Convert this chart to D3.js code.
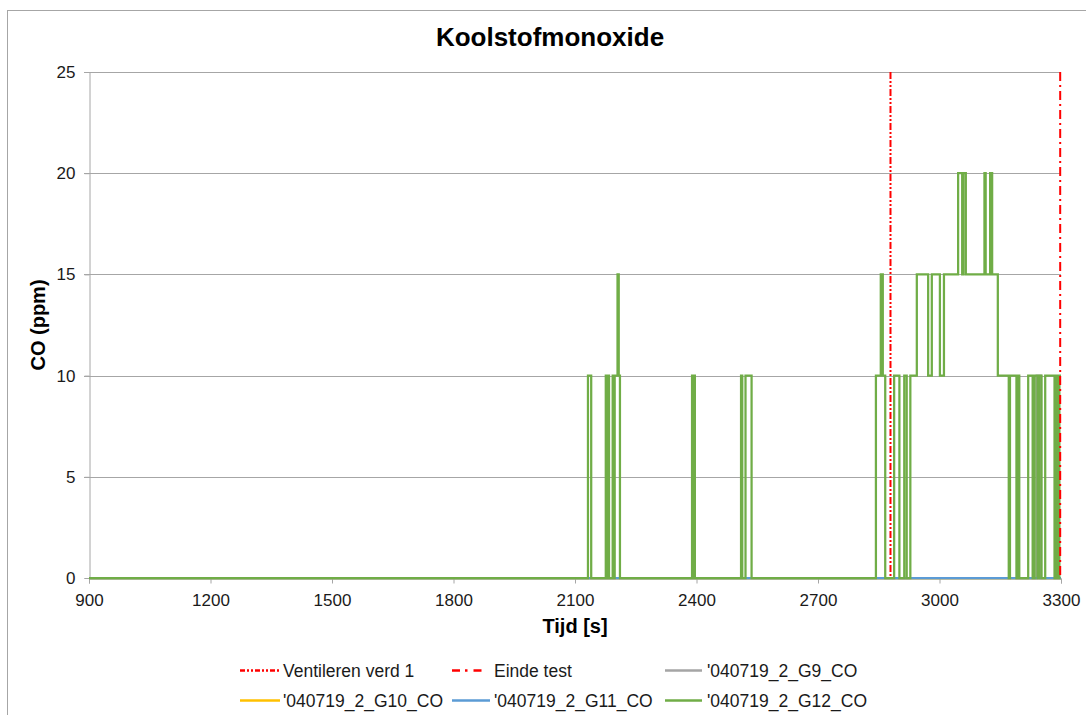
<!DOCTYPE html>
<html>
<head>
<meta charset="utf-8">
<script src="https://cdn.jsdelivr.net/npm/d3@7"></script>
<style>
  body { margin: 0; background: #fff; }
  svg { font-family: "Liberation Sans", Arial, sans-serif; }
</style>
</head>
<body>
<svg id="chart" width="1086" height="715"></svg>
<script>
// tick labels
const X_TICKS = [900, 1200, 1500, 1800, 2100, 2400, 2700, 3000, 3300];
const Y_TICKS = [0, 5, 10, 15, 20, 25];

// vertical markers
const VENT_TIME = 2879;
const END_TIME = 3298;

// series as change points (step after): time [s], CO [ppm]
const G12_T = [900, 2132, 2140, 2176, 2179, 2181, 2184, 2193, 2196, 2198, 2205, 2208, 2211,
  2389, 2392, 2394, 2396, 2510, 2513, 2521, 2536,
  2843, 2855, 2860, 2866, 2870, 2888, 2901, 2913, 2919, 2928, 2944, 2972, 2981, 3001, 3011,
  3046, 3056, 3059, 3065, 3111, 3114, 3125, 3130, 3144,
  3171, 3174, 3190, 3194, 3197, 3200, 3219, 3230, 3235, 3242, 3246, 3252, 3261, 3284, 3289, 3294, 3296, 3300];
const G12_V = [0, 10, 0, 10, 0, 10, 0, 10, 0, 10, 15, 10, 0,
  10, 0, 10, 0, 10, 0, 10, 0,
  10, 15, 10, 0, 0, 10, 0, 10, 0, 10, 15, 10, 15, 10, 15,
  20, 15, 20, 15, 20, 15, 20, 15, 10,
  0, 10, 0, 10, 0, 0, 10, 0, 10, 0, 10, 0, 10, 0, 10, 0, 10, 10];
const G9_T = [900, 3240, 3250, 3300];
const G9_V = [0, 10, 0, 0];
const G10_T = [900, 3300];
const G10_V = [0, 0];
const G11_T = [900, 3300];
const G11_V = [0, 0];

const SERIES = [
  { name: "'040719_2_G9_CO", t: G9_T, v: G9_V, color: "#a5a5a5" },
  { name: "'040719_2_G10_CO", t: G10_T, v: G10_V, color: "#ffc000" },
  { name: "'040719_2_G11_CO", t: G11_T, v: G11_V, color: "#5b9bd5" },
  { name: "'040719_2_G12_CO", t: G12_T, v: G12_V, color: "#70ad47" }
];

const LEFT = 89, RIGHT = 1061, TOP = 72, BOTTOM = 578;
const svg = d3.select("#chart");

svg.append("rect")
    .attr("x", 7.5).attr("y", 10.5)
    .attr("width", 1200).attr("height", 900)
    .attr("fill", "none")
    .attr("stroke", "#a6a6a6");

const x = d3.scaleLinear().domain([900, 3300]).range([LEFT, RIGHT]);
const y = d3.scaleLinear().domain([0, 25]).range([BOTTOM, TOP]);

// grid
svg.append("g")
    .selectAll("line")
    .data(Y_TICKS.filter(d => d > 0))
    .enter()
    .append("line")
    .attr("x1", LEFT - 5).attr("x2", RIGHT)
    .attr("y1", d => Math.round(y(d)) + 0.5)
    .attr("y2", d => Math.round(y(d)) + 0.5)
    .attr("stroke", "#a6a6a6");

// y axis
const yAxis = svg.append("g")
    .attr("transform", `translate(${LEFT + 0.5},0)`)
    .call(d3.axisLeft(y).tickValues(Y_TICKS).tickSize(5).tickPadding(9));
yAxis.select(".domain").attr("stroke", "#a6a6a6");
yAxis.selectAll(".tick line").attr("stroke", "#a6a6a6");
yAxis.selectAll("text").attr("font-size", 17).attr("fill", "#1a1a1a")
    .attr("font-family", "Liberation Sans, Arial, sans-serif");

// x axis
const xAxis = svg.append("g")
    .attr("transform", `translate(0,${BOTTOM + 0.5})`)
    .call(d3.axisBottom(x).tickValues(X_TICKS).tickSize(5).tickPadding(10).tickFormat(d3.format("d")));
xAxis.select(".domain").attr("stroke", "#a6a6a6");
xAxis.selectAll(".tick line").attr("stroke", "#a6a6a6");
xAxis.selectAll("text").attr("font-size", 17).attr("fill", "#1a1a1a")
    .attr("font-family", "Liberation Sans, Arial, sans-serif");

// series
const line = d3.line()
    .x(d => x(d[0]))
    .y(d => y(d[1]))
    .curve(d3.curveStepAfter);

SERIES.forEach(s => {
    svg.append("path")
        .datum(s.t.map((t, i) => [t, s.v[i]]))
        .attr("d", line)
        .attr("fill", "none")
        .attr("stroke", s.color)
        .attr("stroke-width", 2.25);
});

// markers
const MARKERS = [
    { name: "Ventileren verd 1", t: VENT_TIME, dash: "7,2,2,2,2,2" },
    { name: "Einde test", t: END_TIME, dash: "9,4,2,4" }
];
MARKERS.forEach(m => {
    svg.append("line")
        .attr("x1", x(m.t)).attr("x2", x(m.t))
        .attr("y1", y(25)).attr("y2", y(0))
        .attr("stroke", "#ff0000")
        .attr("stroke-width", 2)
        .attr("stroke-dasharray", m.dash);
});

// titles
svg.append("text")
    .attr("x", 550).attr("y", 46)
    .attr("text-anchor", "middle")
    .attr("font-size", 26).attr("font-weight", "bold")
    .text("Koolstofmonoxide");

svg.append("text")
    .attr("x", 575).attr("y", 633)
    .attr("text-anchor", "middle")
    .attr("font-size", 20).attr("font-weight", "bold")
    .text("Tijd [s]");

svg.append("text")
    .attr("transform", "translate(45,325) rotate(-90)")
    .attr("text-anchor", "middle")
    .attr("font-size", 20).attr("font-weight", "bold")
    .text("CO (ppm)");

// legend
const LEGEND = [
    { name: MARKERS[0].name, color: "#ff0000", dash: "5,2,2,2,2,2", col: 0, row: 0 },
    { name: MARKERS[1].name, color: "#ff0000", dash: "8,5,2.5,6", col: 1, row: 0 },
    { name: SERIES[0].name, color: SERIES[0].color, dash: null, col: 2, row: 0 },
    { name: SERIES[1].name, color: SERIES[1].color, dash: null, col: 0, row: 1 },
    { name: SERIES[2].name, color: SERIES[2].color, dash: null, col: 1, row: 1 },
    { name: SERIES[3].name, color: SERIES[3].color, dash: null, col: 2, row: 1 }
];
const colLine = [[240, 280], [452, 490], [665, 702]];
const colText = [283, 494, 707];
const rowY = [670.5, 700.5];

const items = svg.append("g").selectAll("g")
    .data(LEGEND)
    .enter()
    .append("g");
items.append("line")
    .attr("x1", d => colLine[d.col][0])
    .attr("x2", d => d.row === 0 && d.col === 1 ? 484 : colLine[d.col][1])
    .attr("y1", d => rowY[d.row]).attr("y2", d => rowY[d.row])
    .attr("stroke", d => d.color)
    .attr("stroke-width", 2.5)
    .attr("stroke-dasharray", d => d.dash);
items.append("text")
    .attr("x", d => colText[d.col])
    .attr("y", d => rowY[d.row] + 6.2)
    .attr("font-size", 17.5)
    .attr("fill", "#1a1a1a")
    .text(d => d.name);
</script>
</body>
</html>
